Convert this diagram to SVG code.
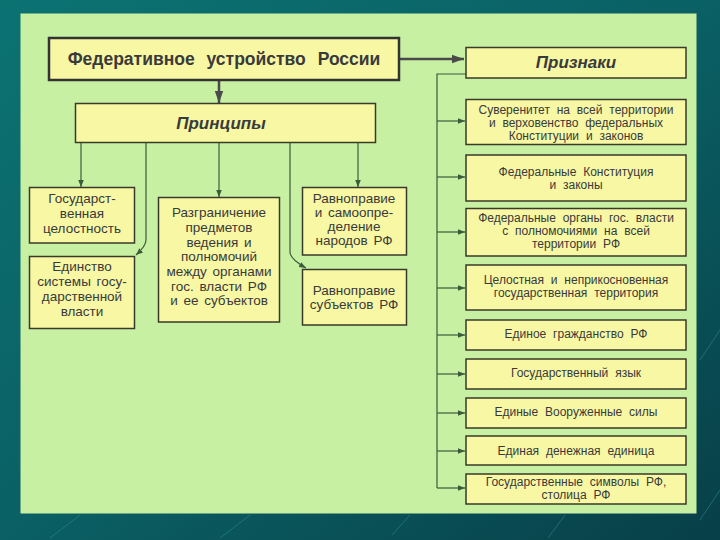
<svg xmlns="http://www.w3.org/2000/svg" width="720" height="540" viewBox="0 0 720 540">
<defs>
<linearGradient id="bg" x1="0" y1="0" x2="1" y2="1">
<stop offset="0" stop-color="#0c7272"/>
<stop offset="0.5" stop-color="#0a6064"/>
<stop offset="1" stop-color="#083f48"/>
</linearGradient>
<marker id="ah" viewBox="0 0 10 10" refX="10" refY="5" markerWidth="7" markerHeight="7" markerUnits="userSpaceOnUse" orient="auto">
<path d="M0,1 L10,5 L0,9 z" fill="#3d5a3d"/>
</marker>
<marker id="ahb" viewBox="0 0 10 10" refX="10" refY="5" markerWidth="12" markerHeight="12" markerUnits="userSpaceOnUse" orient="auto">
<path d="M0,1.5 L10,5 L0,8.5 z" fill="#4a4a4a"/>
</marker>
<style>
.box{fill:#f7f7a4;stroke:#3a3a2a;stroke-width:1.5}
.tb{fill:#f7f7a4;stroke:#333;stroke-width:2.5}
.t{font-family:"Liberation Sans",Arial,sans-serif;fill:#3a3a3a;text-anchor:middle}
.l{font-size:13.5px;word-spacing:2px}
.r{font-size:12px;word-spacing:3.5px}
.h{font-weight:bold;font-style:italic;font-size:17px}
.c{fill:none;stroke:#3d5a3d;stroke-width:1.2}
.cb{fill:none;stroke:#4a4a4a;stroke-width:2.5}
</style>
</defs>
<rect x="0" y="0" width="720" height="540" fill="url(#bg)"/>
<g stroke="#2a8a8a" stroke-width="1" opacity="0.6">
<line x1="50" y1="538" x2="80" y2="515"/>
<line x1="220" y1="538" x2="250" y2="515"/>
<line x1="392" y1="535" x2="410" y2="515"/>
<line x1="548" y1="538" x2="565" y2="515"/>
<line x1="700" y1="360" x2="720" y2="330"/>
<line x1="700" y1="520" x2="720" y2="490"/>
</g>
<rect x="20.5" y="13.5" width="676" height="500" fill="#c8f0a2"/>

<g id="connectors">
<line class="cb" x1="399" y1="59" x2="464" y2="59" marker-end="url(#ahb)"/>
<line class="cb" x1="219" y1="81" x2="219" y2="103" marker-end="url(#ahb)"/>
<path class="c" d="M466,74 H437 V488"/>
<line class="c" x1="437" y1="121" x2="465" y2="121" marker-end="url(#ah)"/>
<line class="c" x1="437" y1="177" x2="465" y2="177" marker-end="url(#ah)"/>
<line class="c" x1="437" y1="232" x2="465" y2="232" marker-end="url(#ah)"/>
<line class="c" x1="437" y1="288" x2="465" y2="288" marker-end="url(#ah)"/>
<line class="c" x1="437" y1="335" x2="465" y2="335" marker-end="url(#ah)"/>
<line class="c" x1="437" y1="374" x2="465" y2="374" marker-end="url(#ah)"/>
<line class="c" x1="437" y1="413" x2="465" y2="413" marker-end="url(#ah)"/>
<line class="c" x1="437" y1="451" x2="465" y2="451" marker-end="url(#ah)"/>
<line class="c" x1="437" y1="488" x2="465" y2="488" marker-end="url(#ah)"/>
<line class="c" x1="81" y1="143" x2="81" y2="187" marker-end="url(#ah)"/>
<path class="c" d="M146,143 V240 Q146,246 136,255" marker-end="url(#ah)"/>
<line class="c" x1="219" y1="143" x2="219" y2="197" marker-end="url(#ah)"/>
<path class="c" d="M290,143 V252 Q290,259 306,268" marker-end="url(#ah)"/>
<line class="c" x1="358" y1="143" x2="358" y2="187" marker-end="url(#ah)"/>
</g>

<g id="n-federal"><rect class="tb" x="49" y="38" width="350" height="42"/>
<text class="t" x="224" y="65" font-size="17.5" font-weight="bold" word-spacing="7">Федеративное устройство России</text></g>
<g id="n-priznaki"><rect class="box" x="466" y="47.5" width="220" height="30.5"/>
<text class="t h" x="576" y="68">Признаки</text></g>
<g id="n-principy"><rect class="box" x="75.5" y="103.5" width="300" height="39"/>
<text class="t h" x="221" y="129">Принципы</text></g>

<g id="n-celostnost"><rect class="box" x="29.5" y="187.5" width="105" height="55.5"/>
<text class="t l" x="82" y="203">Государст-</text><text class="t l" x="82" y="218">венная</text><text class="t l" x="82" y="233">целостность</text></g>
<g id="n-edinstvo"><rect class="box" x="29.5" y="256.5" width="105" height="72"/>
<text class="t l" x="82" y="271">Единство</text><text class="t l" x="82" y="286">системы госу-</text><text class="t l" x="82" y="301">дарственной</text><text class="t l" x="82" y="316">власти</text></g>
<g id="n-razgran"><rect class="box" x="158.5" y="197.5" width="121" height="124.5"/>
<text class="t l" x="219" y="217">Разграничение</text><text class="t l" x="219" y="232">предметов</text><text class="t l" x="219" y="246.5">ведения и</text><text class="t l" x="219" y="261">полномочий</text><text class="t l" x="219" y="276">между органами</text><text class="t l" x="219" y="290.5">гос. власти РФ</text><text class="t l" x="219" y="305">и ее субъектов</text></g>
<g id="n-samoopr"><rect class="box" x="302.5" y="187.5" width="104" height="67.5"/>
<text class="t l" x="354" y="203">Равноправие</text><text class="t l" x="354" y="217">и самоопре-</text><text class="t l" x="354" y="231">деление</text><text class="t l" x="354" y="245">народов РФ</text></g>
<g id="n-subjekty"><rect class="box" x="302.5" y="269.5" width="104" height="55.5"/>
<text class="t l" x="354" y="295">Равноправие</text><text class="t l" x="354" y="309">субъектов РФ</text></g>

<g id="n-suver"><rect class="box" x="466" y="99.5" width="220" height="45"/>
<text class="t r" x="576" y="114">Суверенитет на всей территории</text><text class="t r" x="576" y="127">и верховенство федеральных</text><text class="t r" x="576" y="140">Конституции и законов</text></g>
<g id="n-konst"><rect class="box" x="466" y="155" width="220" height="46"/>
<text class="t r" x="576" y="176">Федеральные Конституция</text><text class="t r" x="576" y="189">и законы</text></g>
<g id="n-organy"><rect class="box" x="466" y="208.5" width="220" height="47.5"/>
<text class="t r" x="576" y="222">Федеральные органы гос. власти</text><text class="t r" x="576" y="235">с полномочиями на всей</text><text class="t r" x="576" y="248">территории РФ</text></g>
<g id="n-territ"><rect class="box" x="466" y="265" width="220" height="45"/>
<text class="t r" x="576" y="284">Целостная и неприкосновенная</text><text class="t r" x="576" y="297">государственная территория</text></g>
<g id="n-grazhd"><rect class="box" x="466" y="320" width="220" height="30"/>
<text class="t r" x="576" y="338">Единое гражданство РФ</text></g>
<g id="n-yazyk"><rect class="box" x="466" y="359" width="220" height="30"/>
<text class="t r" x="576" y="377">Государственный язык</text></g>
<g id="n-sily"><rect class="box" x="466" y="398" width="220" height="30"/>
<text class="t r" x="576" y="416">Единые Вооруженные силы</text></g>
<g id="n-valuta"><rect class="box" x="466" y="436" width="220" height="29"/>
<text class="t r" x="576" y="455">Единая денежная единица</text></g>
<g id="n-simvoly"><rect class="box" x="466" y="474" width="220" height="30"/>
<text class="t r" x="576" y="486">Государственные символы РФ,</text><text class="t r" x="576" y="499">столица РФ</text></g>
</svg>
